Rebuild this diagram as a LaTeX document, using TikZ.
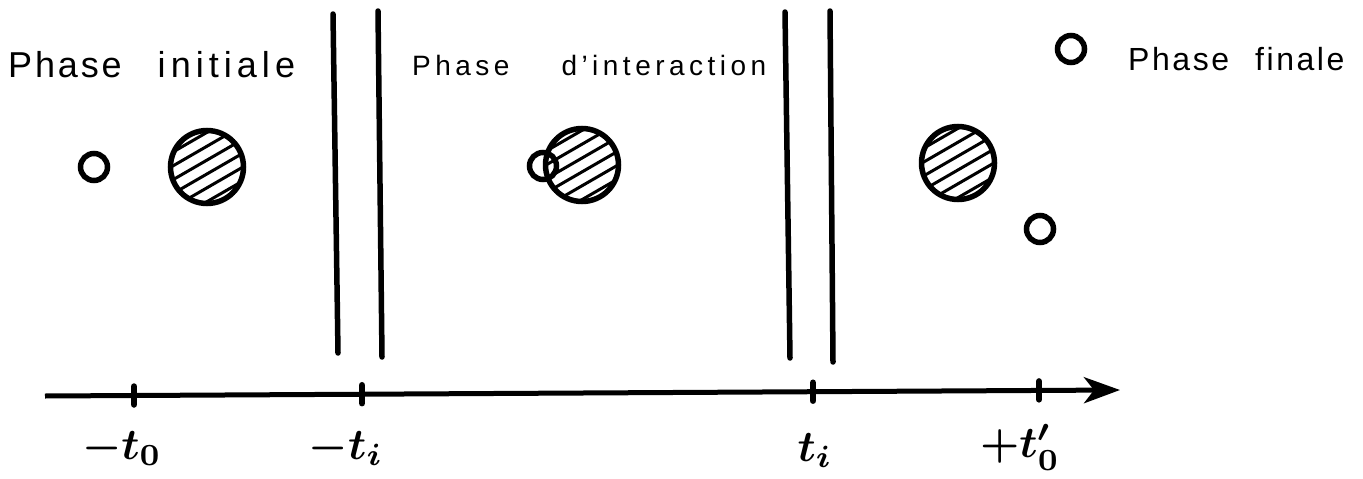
\documentclass[tikz,border=0pt]{standalone}
\usepackage[no-math]{fontspec}
\newfontfamily\hand[LetterSpace=8]{Liberation Sans}
\newfontfamily\handwide[LetterSpace=16]{Liberation Sans}
\usetikzlibrary{arrows.meta}
\newcommand{\timelabel}[1]{\scalebox{4.4}{\boldmath$#1$}}

\begin{document}
\begin{tikzpicture}[x=1pt,y=-1pt,
particle/.style={circle,draw,line width=5.5pt,minimum size=27pt,inner sep=0pt},
target/.style={circle,draw,line width=5.5pt,minimum size=73pt,inner sep=0pt},
hatch/.style={line width=3pt},
wall/.style={line width=5.5pt,line cap=round},
axis/.style={line width=5pt,-{Stealth[length=36pt,width=26pt,inset=10pt]}},
tick/.style={line width=6.5pt,line cap=round},
phase/.style={anchor=base west,inner sep=0pt},
tlabel/.style={anchor=base,inner sep=0pt}]
\useasboundingbox (0,0) rectangle (1363,479);

% phase titles
\node[phase,font=\hand\fontsize{36}{40}\selectfont] (initiale) at (8,77) {Phase\hspace{36pt}{\addfontfeatures{LetterSpace=14}initiale}};
\node[phase,font=\handwide\fontsize{28}{32}\selectfont] (interaction) at (412,75) {Phase\hspace{52pt}d’interaction};
\node[particle] (legend) at (1071,49) {};
\node[phase,font=\hand\fontsize{32}{36}\selectfont] (finale) at (1128,70) {Phase\hspace{26pt}finale};

% particles and targets
\node[particle] (p1) at (94,167) {};
\node[target] (n1) at (207,167) {};
\node[target] (n2) at (582,165) {};
\node[particle] (p2) at (543,166) {};
\node[target] (n3) at (958,163) {};
\node[particle] (p3) at (1040,229) {};
\foreach \n in {n1,n2,n3}{
  \begin{scope}
    \clip (\n.center) circle (35pt);
    \foreach \d in {-30,-18,...,30}
      \draw[hatch] ([shift={({0.5*\d-45},{0.866*\d+26})}]\n.center) -- ([shift={({0.5*\d+45},{0.866*\d-26})}]\n.center);
  \end{scope}
}

% walls
\draw[wall] (333,14) -- (338,353);
\draw[wall] (378,11) -- (382,357);
\draw[wall] (785,12) -- (790,358);
\draw[wall] (830,11) -- (833,362);

% time axis
\coordinate (start) at (45,396);
\coordinate (end) at (1120,390);
\coordinate (tk1) at (134,395.5);
\coordinate (tk2) at (362,394.2);
\coordinate (tk3) at (813,391.7);
\coordinate (tk4) at (1039,390.4);
\draw[axis] (start) -- (end);
\foreach \t in {tk1,tk2,tk3,tk4}
  \draw[tick] ([yshift=9pt]\t) -- ([yshift=-9pt]\t);

\node[tlabel] (mto) at (122,459) {\timelabel{-t_0}};
\node[tlabel] (mti) at (346,459) {\timelabel{-t_i}};
\node[tlabel] (pti) at (815,461) {\timelabel{t_i}};
\node[tlabel] (pto) at (1020,457) {\timelabel{+t'_0}};
\end{tikzpicture}
\end{document}
